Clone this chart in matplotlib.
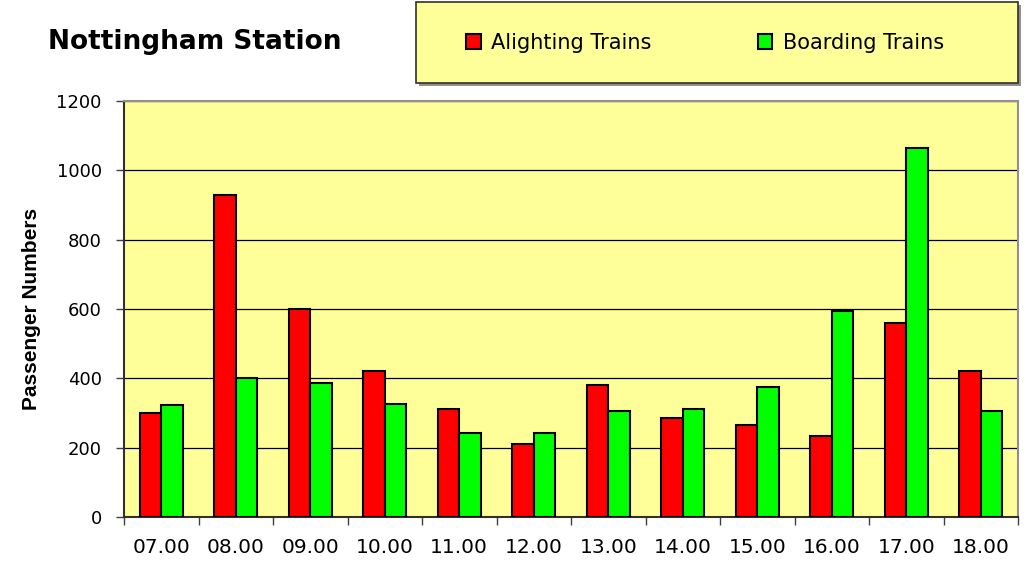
import matplotlib
matplotlib.use("Agg")
import matplotlib.pyplot as plt
import numpy as np
from matplotlib.patches import Rectangle, Patch

hours = ["07.00", "08.00", "09.00", "10.00", "11.00", "12.00",
         "13.00", "14.00", "15.00", "16.00", "17.00", "18.00"]
alighting = [300, 930, 600, 420, 312, 210, 380, 286, 264, 233, 559, 422]
boarding = [323, 400, 386, 327, 242, 242, 306, 311, 375, 595, 1065, 306]
yticks = [0, 200, 400, 600, 800, 1000, 1200]

W, H = 1034, 563
fig = plt.figure(figsize=(W / 100, H / 100), dpi=100)
fig.patch.set_facecolor("white")

ax = fig.add_axes([124 / W, 1 - 517 / H, (1018 - 124) / W, (517 - 101) / H])
ax.set_facecolor("#FFFF99")

x = np.arange(len(hours))
bw = 0.29
ax.bar(x - bw / 2, alighting, bw, color="#FF0000", edgecolor="black", linewidth=1.5, zorder=3)
ax.bar(x + bw / 2, boarding, bw, color="#00FF00", edgecolor="black", linewidth=1.5, zorder=3)

ax.set_xlim(-0.5, len(hours) - 0.5)
ax.set_ylim(0, 1200)
ax.set_yticks(yticks)
ax.set_yticklabels([str(v) for v in yticks], fontsize=13)
ax.yaxis.grid(True, color="black", linewidth=0.9, zorder=1)
ax.set_axisbelow(True)

ax.set_xticks(x)
ax.set_xticklabels(hours, fontsize=14.5)
ax.set_xticks(np.arange(-0.5, len(hours), 1), minor=True)
ax.tick_params(axis="x", which="major", length=0, pad=15)
ax.tick_params(axis="x", which="minor", length=6, direction="out", width=1, color="#404040")
ax.tick_params(axis="y", length=6, direction="out", width=1, color="#404040", pad=10)

for s in ["left", "bottom"]:
    ax.spines[s].set_color("#303030")
    ax.spines[s].set_linewidth(1.5)
for s in ["top", "right"]:
    ax.spines[s].set_color("#909090")
    ax.spines[s].set_linewidth(1.5)

ax.set_ylabel("Passenger Numbers", fontsize=15, fontweight="bold",
              family=["Liberation Sans Narrow", "Liberation Sans", "DejaVu Sans"], labelpad=11)

fig.text(48 / W, 1 - 42 / H, "Nottingham Station", fontsize=19, fontweight="bold",
         ha="left", va="center")

# legend box with shadow
lx0, lx1, ly0, ly1 = 416, 1018, 2, 83
shadow = Rectangle((lx0 / W + 3 / W, 1 - (ly1 + 3) / H), (lx1 - lx0) / W, (ly1 - ly0) / H,
                   transform=fig.transFigure, facecolor="#909090", edgecolor="none", zorder=1)
box = Rectangle((lx0 / W, 1 - ly1 / H), (lx1 - lx0) / W, (ly1 - ly0) / H,
                transform=fig.transFigure, facecolor="#FFFF99", edgecolor="#303030",
                linewidth=1.2, zorder=2)
fig.patches.extend([shadow, box])

handles = [Patch(facecolor="#FF0000", edgecolor="black", linewidth=1.5),
           Patch(facecolor="#00FF00", edgecolor="black", linewidth=1.5)]
leg = fig.legend(handles, ["Alighting Trains", "Boarding Trains"], ncol=2,
                 loc="center left", bbox_to_anchor=(466 / W, 1 - 43 / H),
                 frameon=False, fontsize=15, handlelength=0.7, handleheight=0.7,
                 handletextpad=0.5, columnspacing=5.1, borderpad=0, borderaxespad=0)
leg.set_zorder(5)

fig.savefig("out.png", dpi=100)
